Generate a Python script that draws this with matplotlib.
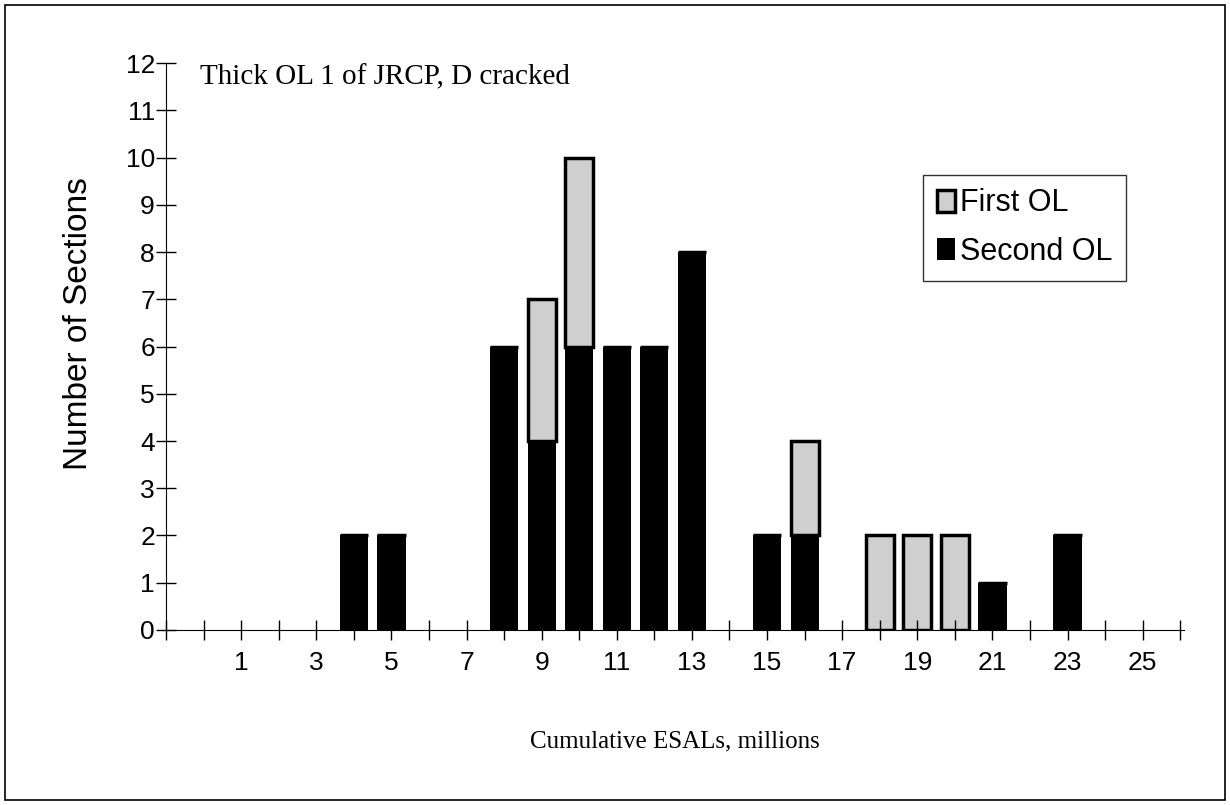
import matplotlib.pyplot as plt
from matplotlib.patches import Rectangle

# ESAL categories (millions) and section counts
esals = [4, 5, 8, 9, 10, 11, 12, 13, 15, 16, 18, 19, 20, 21, 23]
second_ol = [2, 2, 6, 4, 6, 6, 6, 8, 2, 2, 0, 0, 0, 1, 2]
first_ol = [0, 0, 0, 3, 4, 0, 0, 0, 0, 2, 2, 2, 2, 0, 0]
tick_labels = [1, 3, 5, 7, 9, 11, 13, 15, 17, 19, 21, 23, 25]

fig = plt.figure(figsize=(12.3, 8.05), dpi=100)
fig.patches.append(Rectangle((0.004, 0.006), 0.992, 0.988, transform=fig.transFigure,
                             fill=False, edgecolor='black', linewidth=1.2))
ax = fig.add_axes([0.135, 0.2174, 0.8276, 0.7043])

ax.bar(esals, second_ol, width=0.75, color='black', label='Second OL')
ax.bar(esals, first_ol, width=0.75, bottom=second_ol, color='#cfcfcf',
       edgecolor='black', linewidth=2.5, label='First OL')

ax.set_xlim(-1, 26.1)
ax.set_ylim(0, 12)
ax.set_yticks(range(0, 13))
ax.set_xticks(tick_labels)
ax.set_xticks(range(-1, 27), minor=True)
ax.tick_params(axis='both', which='both', direction='inout', length=14, width=1)
ax.tick_params(axis='x', which='major', pad=8)
ax.tick_params(axis='y', pad=1)
for lab in ax.get_xticklabels() + ax.get_yticklabels():
    lab.set_fontfamily('Liberation Sans')
    lab.set_fontsize(19)

ax.spines['top'].set_visible(False)
ax.spines['right'].set_visible(False)

ax.set_ylabel('Number of Sections', fontsize=24, family='Liberation Sans')
ax.yaxis.set_label_coords(-0.071, 0.54)
ax.set_xlabel('Cumulative ESALs, millions', fontsize=18, family='Liberation Serif', labelpad=40)
ax.text(0.033, 0.975, 'Thick OL 1 of JRCP, D cracked', transform=ax.transAxes,
        fontsize=21, family='Liberation Serif', va='center', ha='left')

h, l = ax.get_legend_handles_labels()
leg = ax.legend(h[::-1], l[::-1], loc='upper left', bbox_to_anchor=(0.744, 0.803),
                prop={'family': 'Liberation Sans', 'size': 22}, frameon=True, fancybox=False,
                edgecolor='black', handlelength=0.6, handleheight=0.75, handletextpad=0.15,
                borderpad=0.45, labelspacing=0.6, borderaxespad=0)
leg.get_frame().set_linewidth(1)

fig.savefig('out.png', dpi=100)
